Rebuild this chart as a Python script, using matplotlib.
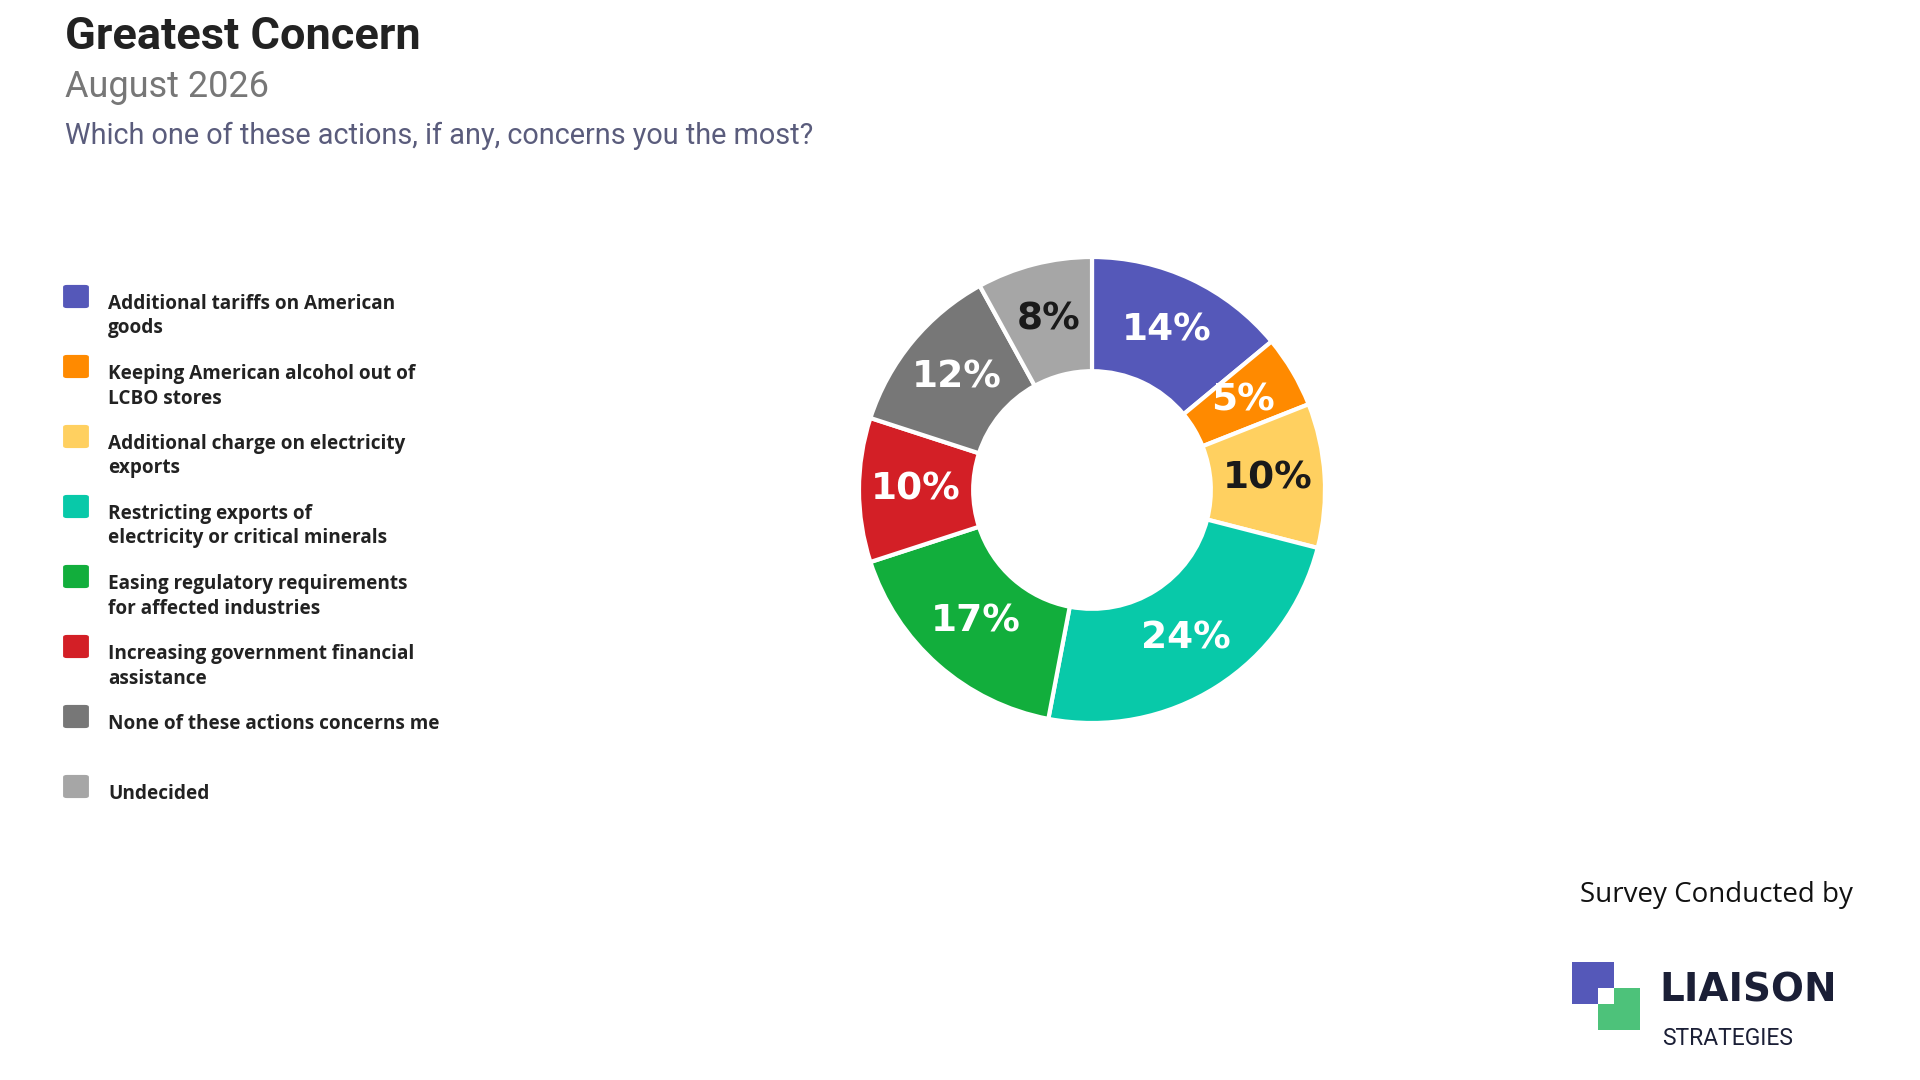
import numpy as np
import matplotlib.pyplot as plt
from matplotlib.patches import FancyBboxPatch, Rectangle

# survey answers, clockwise from 12 o'clock
labels = ["Additional tariffs on American\ngoods",
          "Keeping American alcohol out of\nLCBO stores",
          "Additional charge on electricity\nexports",
          "Restricting exports of\nelectricity or critical minerals",
          "Easing regulatory requirements\nfor affected industries",
          "Increasing government financial\nassistance",
          "None of these actions concerns me",
          "Undecided"]
values = [14, 5, 10, 24, 17, 10, 12, 8]
colors = ["#5558b9", "#ff8a00", "#ffd060", "#08c9a9", "#12ae3c",
          "#d31f26", "#777777", "#a6a6a6"]
label_colors = ["white", "white", "#1a1a1a", "white", "white",
                "white", "white", "#1a1a1a"]

W, H = 1920, 1080
fig = plt.figure(figsize=(W/100, H/100), dpi=100)
fig.patch.set_facecolor("white")

def fy(y):
    return 1 - y/H

# header
fig.text(65/W, fy(49), "Greatest Concern", fontsize=32.5, fontweight="bold",
         color="#222222", family="Roboto")
fig.text(65/W, fy(97), "August 2026", fontsize=26, color="#777777", family="Roboto")
fig.text(65/W, fy(144), "Which one of these actions, if any, concerns you the most?",
         fontsize=20.8, color="#5a5c7c", family="Roboto")

# donut
cx, cy, R = 1092, 490, 233
ax = fig.add_axes([(cx-R)/W, 1-(cy+R)/H, 2*R/W, 2*R/H])
wedges, texts, autotexts = ax.pie(values, colors=colors, startangle=90, counterclock=False,
                                  radius=1, autopct=lambda p: f"{p:.0f}%", pctdistance=0.755,
                                  wedgeprops=dict(width=0.49, edgecolor="white", linewidth=3))
for w in wedges:
    w.set_clip_on(False)
for t, c in zip(autotexts, label_colors):
    t.set_color(c)
    t.set_fontsize(27)
    t.set_fontweight("bold")
    t.set_family("DejaVu Sans")
ax.set_xlim(-1, 1)
ax.set_ylim(-1, 1)
ax.set_aspect("equal")
ax.axis("off")

# legend
y0, step = 285, 70
for i, (lab, col) in enumerate(zip(labels, colors)):
    top = y0 + i*step
    box = FancyBboxPatch((65/W, fy(top+22)), 22/W, 21/H,
                         boxstyle="round,pad=0.0010,rounding_size=0.002",
                         transform=fig.transFigure, facecolor=col, edgecolor="none")
    fig.patches.append(box)
    fig.text(108/W, fy(top+9), lab, fontsize=13.7, fontweight="bold", color="#222222",
             family="Open Sans", va="top", linespacing=1.3)

# logo
fig.text(1853/W, fy(902), "Survey Conducted by", fontsize=20, color="#111111",
         family="Open Sans", ha="right")
fig.patches.append(Rectangle((1572/W, fy(1004)), 42/W, 42/H, transform=fig.transFigure,
                             facecolor="#5558b9", edgecolor="none"))
fig.patches.append(Rectangle((1598/W, fy(1030)), 42/W, 42/H, transform=fig.transFigure,
                             facecolor="#4dc27a", edgecolor="none"))
fig.patches.append(Rectangle((1598/W, fy(1004)), 16/W, 16/H, transform=fig.transFigure,
                             facecolor="white", edgecolor="none"))
fig.text(1659/W, fy(1002), "LIAISON", fontsize=28, fontweight="bold", color="#1b1f36",
         family="DejaVu Sans")
fig.text(1662/W, fy(1045), "STRATEGIES", fontsize=16.5, color="#1b1f36", family="Roboto")

fig.savefig("out.png", dpi=100, facecolor="white")
